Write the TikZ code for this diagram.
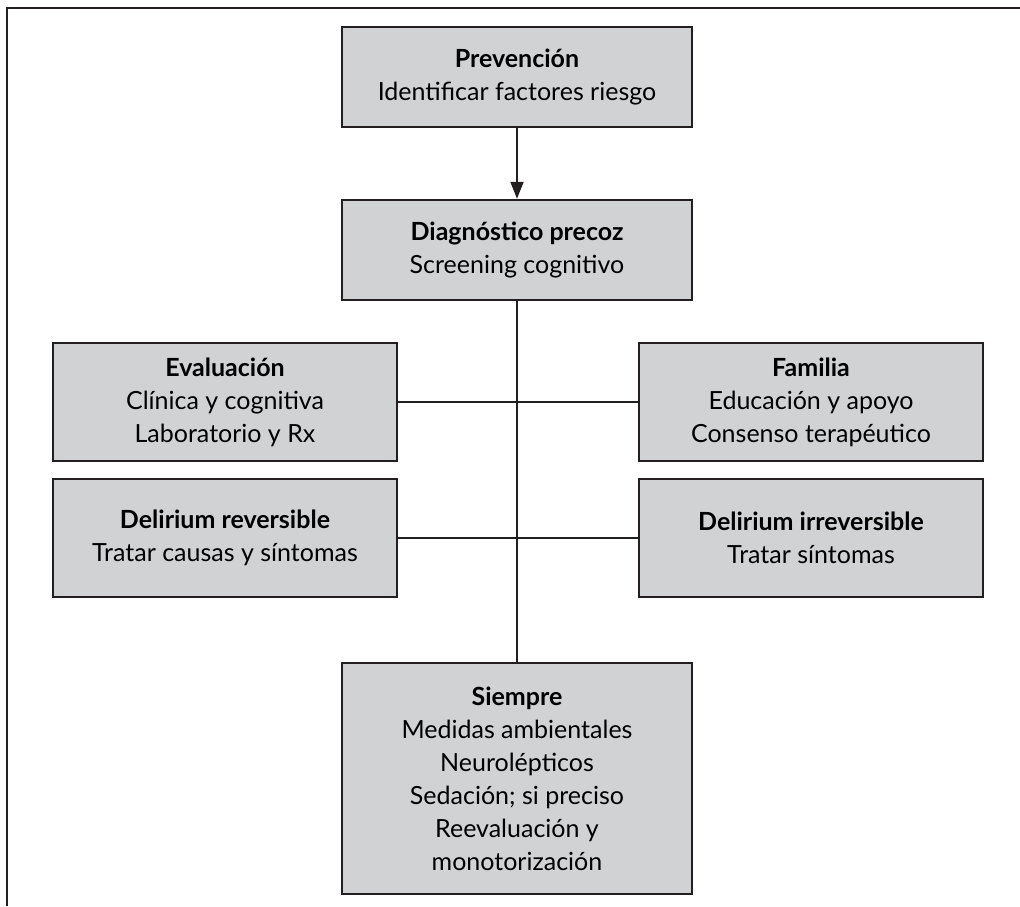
\documentclass[tikz,border=0pt]{standalone}
\usepackage{fontspec}
\setmainfont{Lato}
\usetikzlibrary{arrows.meta}
\definecolor{cajagris}{HTML}{D1D2D4}
\definecolor{borde}{HTML}{231F20}
\begin{document}
\begin{tikzpicture}[x=1pt, y=-1pt, >={Triangle[width=13pt,length=17pt]},
  every node/.style={font=\fontsize{25}{33}\selectfont},
  caja/.style={draw=borde, line width=2.4pt, fill=cajagris, align=center, inner sep=0pt},
  central/.style={caja, minimum width=350pt, minimum height=100pt},
  lateral/.style={caja, minimum width=344pt, minimum height=118pt},
  linea/.style={line width=2pt, borde}]
  \useasboundingbox (0,0) rectangle (1020,906);
  % Marco exterior
  \draw[linea, line width=2.4pt] (7,906) -- (7,8) -- (1020,8);
  % Columna central
  \node[central] (Prev) at (517,77) {\textbf{Prevención}\\Identificar factores riesgo};
  \node[central] (Diag) at (517,250) {\textbf{Diagnóstico precoz}\\Screening cognitivo};
  \node[central, minimum height=231pt] (Siem) at (517,778.5) {\textbf{Siempre}\\Medidas ambientales\\Neurolépticos\\Sedación; si preciso\\Reevaluación y\\monotorización};
  % Cajas laterales
  \node[lateral] (Eval) at (225,402) {\textbf{Evaluación}\\Clínica y cognitiva\\Laboratorio y Rx};
  \node[lateral] (Fam) at (811,402) {\textbf{Familia}\\Educación y apoyo\\Consenso terapéutico};
  \node[lateral] (DelR) at (225,538) {\textbf{Delirium reversible}\\Tratar causas y síntomas};
  \node[lateral] (DelI) at (811,538) {\textbf{Delirium irreversible}\\Tratar síntomas};
  % Conectores
  \draw[linea, ->] (Prev) -- (Diag);
  \draw[linea] (Diag) -- (Siem);
  \draw[linea] (Eval) -- (Fam);
  \draw[linea] (DelR) -- (DelI);
\end{tikzpicture}
\end{document}
